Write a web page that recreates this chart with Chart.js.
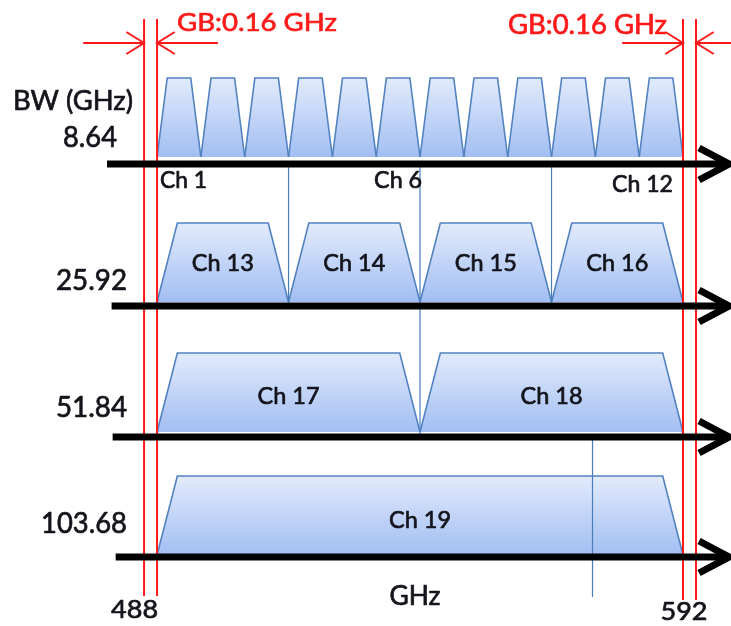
<!DOCTYPE html>
<html><head><meta charset="utf-8">
<script src="https://cdn.jsdelivr.net/npm/chart.js@4.4.1/dist/chart.umd.min.js"></script>
<style>html,body{margin:0;padding:0;background:#fff;}#wrap{width:731px;height:626px;position:relative;}</style>
</head><body><div id="wrap"><canvas id="c"></canvas></div>
<script>
// ---------------- data (GHz) ----------------
const bandEdgesGHz = [488, 592];
const guardBandGHz = 0.16;
const bandwidthsGHz = [8.64, 25.92, 51.84, 103.68];
const bandwidthLabels = ['8.64', '25.92', '51.84', '103.68'];
const bw864Channels = [1, 2, 3, 4, 5, 6, 7, 8, 9, 10, 11, 12];
const bw864CentersGHz = [492.48, 501.12, 509.76, 518.40, 527.04, 535.68, 544.32, 552.96, 561.60, 570.24, 578.88, 587.52];
const bw2592Channels = [13, 14, 15, 16];
const bw2592CentersGHz = [501.12, 527.04, 552.96, 578.88];
const bw5184Channels = [17, 18];
const bw5184CentersGHz = [514.08, 565.92];
const bw10368Channels = [19];
const bw10368CentersGHz = [540.00];
const row1LabelledChannels = [1, 6, 12];
const blueMarkersGHz = [514.08, 540.00, 565.92, 591.84, 574.0];
const axisTickLabels = ['488', '592'];
const axisTitle = 'GHz';
const rowTitle = 'BW (GHz)';
const guardLabel = 'GB:0.16 GHz';

// ---------------- layout / style (not data) ----------------
const L = {
  xMin: 457.2, xMax: 601.3, yMax: 626,
  rowAxisY: [164, 306, 437, 557],
  trapBottom: [157, 302, 432, 555],
  trapHeight: 79,
  insetGHz: [2.0, 4.0, 4.0, 4.0],
  gbDrawGHz: 2.56,               // guard band drawn exaggerated, as in the reference
  axisStartGHz: [478.3, 479.2, 479.4, 480.0],
  axisTipGHz: 600.9, headBackGHz: 5.9, headHalf: 16,
  redTop: 19, redBottomL: 596, redBottomR: 600,
  blueSpans: [[166, 305], [166, 440], [166, 305], [160, 600], [440, 597]],
  gbArrowY: 43, gbArrowLenGHz: 12.0, gbHeadGHz: 3.5, gbHeadHalf: 11
};
const C = { fillTop: '#e2ebfc', fillBot: '#a2bef2', edge: '#5282c0', blue: '#4a7ebb', red: '#ff1a1a', ink: '#14141c' };

const rows = [
  { ch: bw864Channels, centers: bw864CentersGHz },
  { ch: bw2592Channels, centers: bw2592CentersGHz },
  { ch: bw5184Channels, centers: bw5184CentersGHz },
  { ch: bw10368Channels, centers: bw10368CentersGHz }
];

const datasets = [];
function seg(points, style, order) {
  datasets.push(Object.assign({ data: points, showLine: true, pointRadius: 0, pointHoverRadius: 0,
    fill: false, order: order, tension: 0, borderCapStyle: 'butt', borderJoinStyle: 'miter' }, style));
}

// black frequency axes with arrowheads
L.rowAxisY.forEach((y, r) => {
  seg([{ x: L.axisStartGHz[r], y }, { x: L.axisTipGHz - 0.6, y }], { borderColor: '#000', borderWidth: 7 }, 0);
  seg([{ x: L.axisTipGHz - L.headBackGHz, y: y - L.headHalf }, { x: L.axisTipGHz, y }, { x: L.axisTipGHz - L.headBackGHz, y: y + L.headHalf }],
      { borderColor: '#000', borderWidth: 7 }, 0);
});

// red guard-band lines
const innerL = bandEdgesGHz[0] + guardBandGHz, innerR = bandEdgesGHz[1] - guardBandGHz;
const outerL = innerL - L.gbDrawGHz, outerR = innerR + L.gbDrawGHz;
[[outerL, L.redBottomL], [innerL, L.redBottomL], [innerR, L.redBottomR], [outerR, L.redBottomR]].forEach(([x, yb]) => {
  seg([{ x, y: L.redTop }, { x, y: yb }], { borderColor: C.red, borderWidth: 2 }, 1);
});
// red arrows
function redArrow(tip, dir, from) {
  seg([{ x: from, y: L.gbArrowY }, { x: tip, y: L.gbArrowY }], { borderColor: C.red, borderWidth: 2 }, 1);
  const b = tip - dir * L.gbHeadGHz;
  seg([{ x: b, y: L.gbArrowY - L.gbHeadHalf }, { x: tip, y: L.gbArrowY }, { x: b, y: L.gbArrowY + L.gbHeadHalf }],
      { borderColor: C.red, borderWidth: 2 }, 1);
}
redArrow(outerL, 1, outerL - L.gbArrowLenGHz);
redArrow(innerL, -1, innerL + L.gbArrowLenGHz);
redArrow(innerR, 1, innerR - L.gbArrowLenGHz);
redArrow(outerR, -1, L.xMax);

// blue marker lines
blueMarkersGHz.forEach((x, i) => {
  const [a, b] = L.blueSpans[i];
  seg([{ x, y: a }, { x, y: b }], { borderColor: C.blue, borderWidth: 1.2 }, 2);
});

// channel trapezoids
rows.forEach((row, r) => {
  const bw = bandwidthsGHz[r], bot = L.trapBottom[r], top = bot - L.trapHeight, ins = L.insetGHz[r];
  row.centers.forEach(c => {
    seg([{ x: c - bw / 2, y: bot }, { x: c - bw / 2 + ins, y: top }, { x: c + bw / 2 - ins, y: top }, { x: c + bw / 2, y: bot }],
      { borderColor: C.edge, borderWidth: 1.6, fill: { value: bot },
        backgroundColor: (ctx) => {
          const ch = ctx.chart, ys = ch.scales && ch.scales.y;
          if (!ys) return C.fillBot;
          const p0 = ys.getPixelForValue(top), p1 = ys.getPixelForValue(bot);
          if (!isFinite(p0) || !isFinite(p1)) return C.fillBot;
          const g = ch.ctx.createLinearGradient(0, p0, 0, p1);
          g.addColorStop(0, C.fillTop); g.addColorStop(1, C.fillBot);
          return g;
        } }, 3);
  });
});

// ---------------- text plugin ----------------
function txt(ctx, s, x, base, capH, width, align, color) {
  ctx.save();
  ctx.font = (capH / 0.72).toFixed(2) + 'px Lato';
  const w = ctx.measureText(s).width;
  const sx = width ? width / w : 1;
  const ww = w * sx;
  const x0 = align === 'center' ? x - ww / 2 : align === 'right' ? x - ww : x;
  ctx.translate(x0, base); ctx.scale(sx, 1);
  ctx.fillStyle = color; ctx.strokeStyle = color; ctx.lineWidth = 0.7; ctx.lineJoin = 'round';
  ctx.textAlign = 'left'; ctx.textBaseline = 'alphabetic';
  ctx.fillText(s, 0, 0);
  ctx.strokeText(s, 0, 0);
  ctx.restore();
}
const textPlugin = {
  id: 'texts',
  afterDatasetsDraw(chart) {
    const ctx = chart.ctx, xs = chart.scales.x, ys = chart.scales.y;
    const X = v => xs.getPixelForValue(v), Y = v => ys.getPixelForValue(v);
    // guard band labels
    txt(ctx, guardLabel, X(innerL) + 20, Y(31), 18.5, 160, 'left', C.red);
    txt(ctx, guardLabel, X(innerR) - 175, Y(34), 19, 159, 'left', C.red);
    // row title + bandwidths
    txt(ctx, rowTitle, 13, Y(110), 20, 120, 'left', C.ink);
    const bwBase = [147, 290, 417, 533], bwRight = [117, 127, 127, 127], bwW = [54, 71, 71, 86];
    bandwidthLabels.forEach((s, i) => txt(ctx, s, bwRight[i], Y(bwBase[i]), 21.5, bwW[i], 'right', C.ink));
    // row 1 channel labels (below axis)
    row1LabelledChannels.forEach(n => {
      const k = bw864Channels.indexOf(n), c = bw864CentersGHz[k];
      const s = 'Ch ' + n;
      if (n === 1) txt(ctx, s, X(c - bandwidthsGHz[0] / 2) + 3, Y(188), 16.5, 47, 'left', C.ink);
      else if (n === 12) txt(ctx, s, X(c + bandwidthsGHz[0] / 2) - 10, Y(192), 16.5, 61, 'right', C.ink);
      else txt(ctx, s, X(c), Y(188), 16.5, 48, 'center', C.ink);
    });
    // other rows: centered in trapezoids
    const labBase = [0, 271, 404, 528];
    for (let r = 1; r < 4; r++) {
      rows[r].centers.forEach((c, i) => {
        txt(ctx, 'Ch ' + rows[r].ch[i], X(c), Y(labBase[r]), 17, 62, 'center', C.ink);
      });
    }
    // axis labels
    txt(ctx, axisTitle, X(540) - 5, Y(605), 19, 51, 'center', C.ink);
    txt(ctx, axisTickLabels[0], X(innerL) + 1, Y(618), 18, 47, 'right', C.ink);
    txt(ctx, axisTickLabels[1], X(innerR) + 1, Y(620), 18, 47, 'center', C.ink);
  }
};

new Chart(document.getElementById('c'), {
  type: 'scatter',
  data: { datasets },
  options: {
    responsive: true, maintainAspectRatio: false, animation: false, events: [],
    layout: { padding: 0 },
    plugins: { legend: { display: false }, tooltip: { enabled: false } },
    scales: {
      x: { type: 'linear', display: false, min: L.xMin, max: L.xMax },
      y: { type: 'linear', display: false, min: 0, max: L.yMax, reverse: true }
    }
  },
  plugins: [textPlugin]
});
</script></body></html>
